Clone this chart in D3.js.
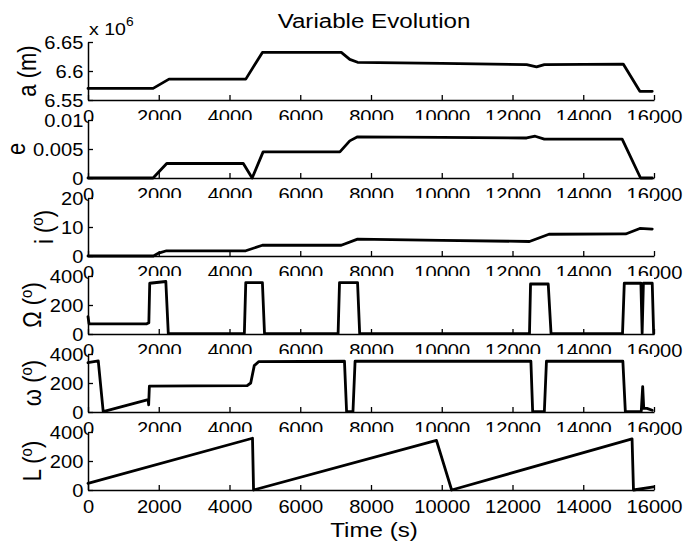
<!DOCTYPE html>
<html><head><meta charset="utf-8">
<script src="https://cdn.jsdelivr.net/npm/d3@7"></script>
<style>
body{margin:0;background:#fff}
svg text{font-family:"Liberation Sans",Arial,Helvetica,sans-serif;fill:#000}
</style>
</head><body>
<svg id="c" width="685" height="546"></svg>
<script>
// ---- data ----
const timeTicks = [0,2000,4000,6000,8000,10000,12000,14000,16000];

const aData = [[0,6.570e6],[1840,6.570e6],[2290,6.586e6],[4460,6.586e6],[4930,6.632e6],[7160,6.632e6],[7400,6.620e6],[7620,6.615e6],[10000,6.613e6],[12400,6.611e6],[12680,6.607e6],[12900,6.611e6],[15130,6.612e6],[15600,6.565e6],[15950,6.565e6]];
const eData = [[0,0],[1840,0],[2225,0.0025],[4390,0.0025],[4640,0],[4950,0.0045],[7120,0.0045],[7400,0.0064],[7620,0.0071],[10000,0.0070],[12400,0.0069],[12640,0.0072],[12900,0.0067],[15100,0.0067],[15620,0],[15950,0]];
const iData = [[0,0],[1850,0],[2000,1.0],[2220,1.8],[4460,1.8],[4930,3.7],[7160,3.7],[7620,5.8],[10000,5.4],[12480,5.0],[13030,7.5],[15200,7.6],[15600,9.5],[15950,9.3]];
const OmegaData = [[0,120],[30,70],[1660,70],[1720,78],[1745,350],[2200,362],[2270,3],[4420,3],[4460,355],[4930,355],[4990,2],[7070,2],[7110,355],[7620,355],[7680,2],[12480,2],[12510,345],[13010,345],[13090,2],[15110,2],[15160,350],[15630,350],[15665,5],[15700,350],[15950,350],[15990,3]];
const omegaData = [[0,340],[290,352],[430,2],[1700,85],[1715,50],[1735,178],[3000,180],[4500,182],[4600,200],[4700,320],[4830,348],[7250,350],[7310,2],[7490,2],[7550,350],[12520,350],[12570,2],[12900,2],[12960,350],[15120,350],[15190,3],[15640,5],[15680,175],[15710,25],[15800,25],[15950,12]];
const LData = [[0,46],[4650,357],[4680,0],[9850,342],[10280,0],[15380,352],[15420,0],[15990,22]];

const aTicks = [6.55e6,6.6e6,6.65e6], aTickLabels = ["6.55","6.6","6.65"];
const eTicks = [0,0.005,0.01], eTickLabels = ["0","0.005","0.01"];
const iTicks = [0,10,20], iTickLabels = ["0","10","20"];
const angTicks = [0,200,400], angTickLabels = ["0","200","400"];

const titleText = "Variable Evolution";
const xLabelText = "Time (s)";

// ---- layout ----
const SX = 1.15;
const left = 88, right = 654;
const tickFont = 17.5, labelFont = 22;
const svg = d3.select("#c");

const panels = [
  {data:aData, domain:[6.55e6,6.65e6], ticks:aTicks, labels:aTickLabels, name:"a (m)", sup:false},
  {data:eData, domain:[0,0.01], ticks:eTicks, labels:eTickLabels, name:"e", sup:false},
  {data:iData, domain:[0,20], ticks:iTicks, labels:iTickLabels, name:"i", sup:true},
  {data:OmegaData, domain:[0,400], ticks:angTicks, labels:angTickLabels, name:"\u03A9", sup:true},
  {data:omegaData, domain:[0,400], ticks:angTicks, labels:angTickLabels, name:"\u03C9", sup:true},
  {data:LData, domain:[0,400], ticks:angTicks, labels:angTickLabels, name:"L", sup:true}
];

const x = d3.scaleLinear().domain([0,16000]).range([left,right]);

function styleAxis(g){
  g.attr("font-size", null).attr("font-family", null);
  g.select(".domain").attr("stroke","#000").attr("stroke-width",1.5);
  g.selectAll(".tick line").attr("stroke","#000").attr("stroke-width",1.3);
  g.selectAll(".tick text").attr("font-size", tickFont).attr("fill","#000");
}

const meas = svg.append("text").attr("font-size",tickFont).attr("opacity",0);
function tw(s){ meas.text(s); return meas.node().getComputedTextLength()*SX; }

panels.forEach((p,k)=>{
  const top = 42 + 78*k, bottom = top + 58;
  const y = d3.scaleLinear().domain(p.domain).range([bottom, top]);
  const g = svg.append("g");
  g.append("rect").attr("x",left).attr("y",top).attr("width",right-left).attr("height",bottom-top).attr("fill","#fff");

  g.append("path").datum(p.data)
    .attr("fill","none").attr("stroke","#000").attr("stroke-width",2.8)
    .attr("stroke-linejoin","round").attr("stroke-linecap","round")
    .attr("d", d3.line().x(d=>x(d[0])).y(d=>y(d[1])));

  const xa = g.append("g").attr("transform",`translate(0,${bottom})`)
    .call(d3.axisBottom(x).tickValues(timeTicks).tickFormat(d3.format("d"))
      .tickSizeInner(-5).tickSizeOuter(0).tickPadding(10.5));
  styleAxis(xa);
  xa.selectAll(".tick text").attr("transform",`scale(${SX},1)`);

  const ya = g.append("g").attr("transform",`translate(${left},0)`)
    .call(d3.axisLeft(y).tickValues(p.ticks).tickFormat((d,i)=>p.labels[i])
      .tickSizeInner(-5).tickSizeOuter(0).tickPadding(4));
  styleAxis(ya);
  ya.selectAll(".tick text").attr("transform",`scale(${SX},1)`).attr("dy","0.36em");

  const maxW = d3.max(p.labels, s=>tw(s));
  const lx = left - 4 - maxW - 9;
  const t = g.append("text")
    .attr("transform",`translate(${lx},${(top+bottom)/2}) scale(${SX},1) rotate(-90)`)
    .attr("text-anchor","middle").attr("font-size",labelFont);
  if(p.sup){
    t.append("tspan").text(p.name+" (");
    t.append("tspan").attr("font-size",15).attr("dy",-8).text("o");
    t.append("tspan").attr("dy",8).text(")");
  } else {
    t.text(p.name);
  }
});
meas.remove();

svg.append("text").attr("transform",`translate(374,28) scale(${SX},1)`)
  .attr("text-anchor","middle").attr("font-size",21).text(titleText);
const ex = svg.append("text").attr("transform",`translate(89,35) scale(${SX},1)`)
  .attr("font-size",17);
ex.append("tspan").text("x 10");
ex.append("tspan").attr("font-size",12).attr("dy",-9).text("6");
svg.append("text").attr("transform",`translate(${(left+right)/2+3},537) scale(${SX},1)`)
  .attr("text-anchor","middle").attr("font-size",21).text(xLabelText);
</script>
</body></html>
